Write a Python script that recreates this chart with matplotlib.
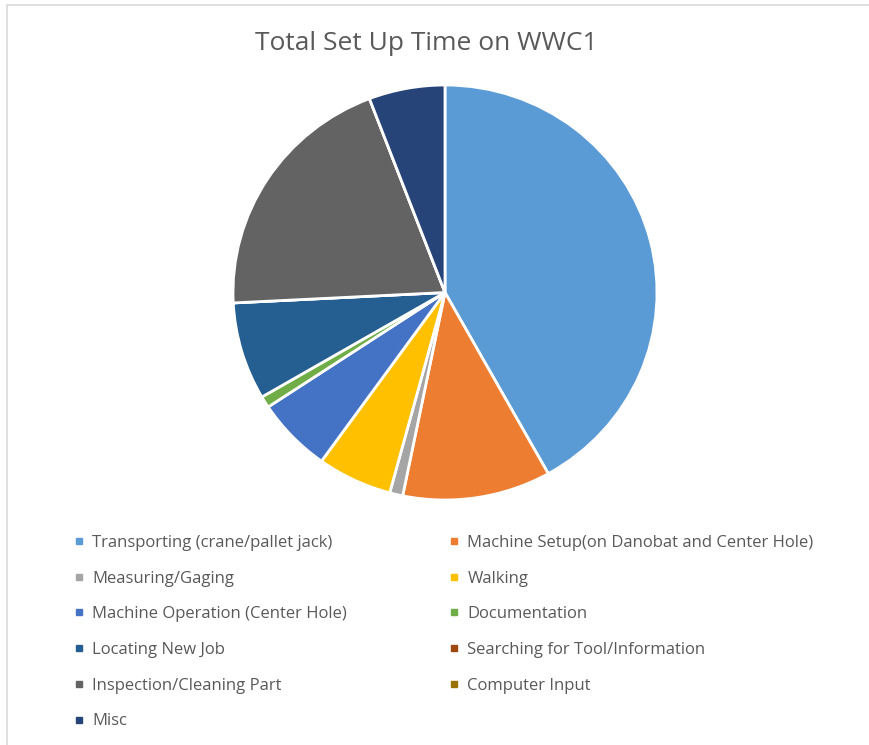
import matplotlib.pyplot as plt
from matplotlib.lines import Line2D
from matplotlib.patches import Rectangle

# --- data ---
labels = [
    "Transporting (crane/pallet jack)",
    "Machine Setup(on Danobat and Center Hole)",
    "Measuring/Gaging",
    "Walking",
    "Machine Operation (Center Hole)",
    "Documentation",
    "Locating New Job",
    "Searching for Tool/Information",
    "Inspection/Cleaning Part",
    "Computer Input",
    "Misc",
]
values = [41.9, 11.3, 1.0, 5.7, 5.8, 0.9, 7.6, 0.0, 20.0, 0.0, 5.8]
colors = ["#5B9BD5", "#ED7D31", "#A5A5A5", "#FFC000", "#4472C4", "#70AD47",
          "#255E91", "#9E480E", "#636363", "#997300", "#264478"]
title = "Total Set Up Time on WWC1"
# ------------

W, H = 870, 745
fig = plt.figure(figsize=(W / 100, H / 100), dpi=100)
plt.rcParams['font.family'] = ['Open Sans', 'DejaVu Sans']

# light frame like the spreadsheet chart area
fig.patches.append(Rectangle((7 / W, -0.1), 1.2, 1 - 5 / H + 0.1,
                             transform=fig.transFigure, fill=False,
                             edgecolor="#d9d9d9", linewidth=1.2))

# the pie in the screenshot is slightly squashed vertically
cx, cy, rx, ry = 445, 292.5, 212, 207.5
ax = fig.add_axes([(cx - rx) / W, (H - cy - ry) / H, 2 * rx / W, 2 * ry / H])
ax.pie(values, colors=colors, startangle=90, counterclock=False, radius=1,
       wedgeprops=dict(edgecolor="white", linewidth=2))
ax.set_xlim(-1.0, 1.0)
ax.set_ylim(-1.0, 1.0)
ax.set_aspect("auto")
ax.axis("off")

fig.text(426 / W, 1 - 44 / H, title, ha="center", va="center",
         fontsize=19, color="#595959")

def handles_for(idx):
    return [Line2D([], [], marker="s", linestyle="none", markersize=5,
                   markerfacecolor=colors[i], markeredgecolor=colors[i]) for i in idx]

for col, x0 in [(0, 74), (1, 449)]:
    idx = list(range(col, len(labels), 2))
    fig.legend(handles_for(idx), [labels[i] for i in idx],
               loc="upper left", bbox_to_anchor=(x0 / W, 1 - 535 / H),
               frameon=False, fontsize=12, labelcolor="#595959",
               handlelength=0.6, handletextpad=0.5, labelspacing=1.18,
               borderaxespad=0, borderpad=0)

plt.savefig("out.png", dpi=100)
